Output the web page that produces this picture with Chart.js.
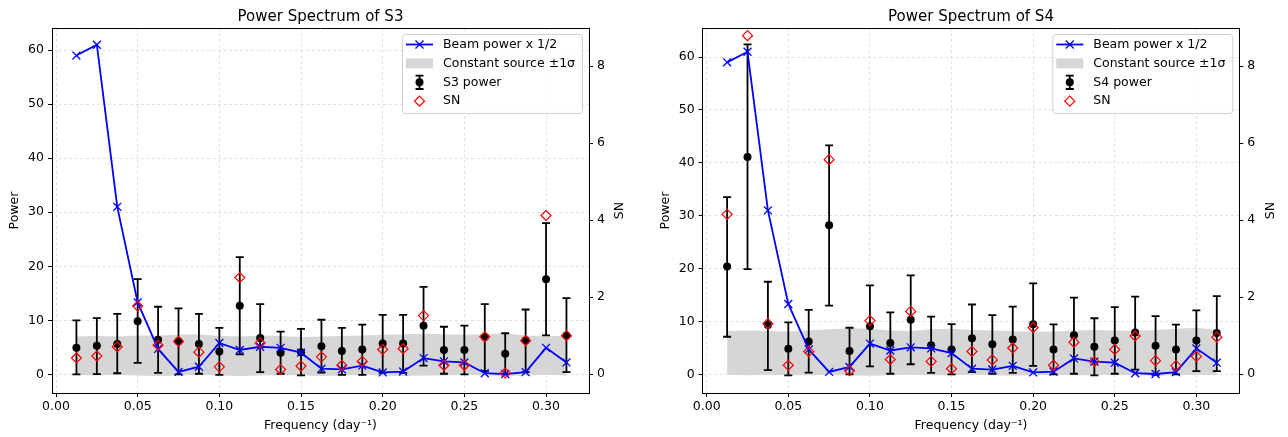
<!DOCTYPE html>
<html>
<head>
<meta charset="utf-8">
<script src="https://cdn.jsdelivr.net/npm/chart.js@4.4.1/dist/chart.umd.min.js"></script>
<style>
  body { margin: 0; background: #fff; }
  .panel { position: absolute; top: 0; width: 644px; height: 437px; }
</style>
</head>
<body>
<div class="panel" style="left:0"><canvas id="s3" width="644" height="437"></canvas></div>
<div class="panel" style="left:644px"><canvas id="s4" width="644" height="437"></canvas></div>
<script>
// frequencies (day^-1)
const freq = [0.0125, 0.025, 0.0375, 0.05, 0.0625, 0.075, 0.0875, 0.1, 0.1125, 0.125, 0.1375, 0.15, 0.1625,
  0.175, 0.1875, 0.2, 0.2125, 0.225, 0.2375, 0.25, 0.2625, 0.275, 0.2875, 0.3, 0.3125];

// beam power x 1/2 (same on both panels)
const beamHalf = [59.0, 61.0, 31.0, 13.3, 4.7, 0.45, 1.4, 5.8, 4.5, 5.1, 4.9, 4.0, 1.05,
  0.9, 1.6, 0.35, 0.5, 3.0, 2.4, 2.2, 0.2, 0.05, 0.4, 4.9, 2.2];

// S3
const s3Power = [4.9, 5.3, 5.6, 9.8, 6.4, 6.1, 5.6, 4.2, 12.7, 6.7, 4.0, 4.1, 5.2,
  4.3, 4.6, 5.7, 5.7, 9.0, 4.5, 4.5, 6.9, 3.8, 6.3, 17.6, 7.2];
const s3Low = [0.0, 0.05, 0.2, 2.1, 0.25, 0.0, 0.1, -0.1, 3.7, 0.4, 0.1, -0.2, 0.3,
  -0.1, -0.1, 0.25, 0.25, 1.6, 0.1, 0.0, 0.6, 0.0, 0.4, 7.2, 0.4];
const s3High = [10.0, 10.4, 11.2, 17.6, 12.5, 12.2, 11.2, 8.6, 21.7, 13.0, 7.9, 8.4, 10.1,
  8.6, 9.2, 11.0, 11.0, 16.2, 8.8, 9.0, 13.0, 7.6, 12.0, 28.0, 14.1];
const s3SN = [0.42, 0.47, 0.71, 1.77, 0.75, 0.85, 0.57, 0.19, 2.51, 0.81, 0.12, 0.21, 0.45,
  0.23, 0.33, 0.64, 0.66, 1.52, 0.23, 0.23, 0.97, 0.03, 0.87, 4.12, 1.0];
const s3BandLow = [-0.1, -0.2, -0.1, -0.2, -0.3, -0.2, -0.1, -0.2, -0.3, -0.2, -0.1, -0.2, -0.3,
  -0.2, -0.1, -0.2, -0.3, -0.2, -0.2, -0.1, -0.2, -0.3, -0.2, -0.1, -0.2];
const s3BandHigh = [7.0, 7.1, 7.0, 7.2, 7.2, 7.3, 7.4, 7.1, 7.0, 7.2, 7.1, 6.9, 7.0,
  7.1, 7.2, 7.3, 7.4, 7.5, 7.4, 7.3, 7.4, 7.6, 7.2, 7.0, 7.2];

// S4
const s4Power = [20.4, 41.1, 9.3, 4.85, 6.2, 28.2, 4.4, 9.1, 5.9, 10.3, 5.5, 4.7, 6.8,
  5.7, 6.6, 9.45, 4.7, 7.4, 5.2, 6.4, 7.9, 5.4, 4.7, 6.4, 7.8];
const s4Low = [7.1, 19.9, 0.8, -0.2, 0.3, 13.0, 0.0, 1.5, 0.1, 1.9, 0.25, 0.0, 0.4,
  0.06, 0.25, 1.6, 0.0, 0.1, -0.2, 0.1, 0.9, -0.1, 0.0, 0.6, 0.6];
const s4High = [33.5, 62.4, 17.5, 9.8, 12.2, 43.3, 8.8, 16.8, 11.7, 18.7, 10.9, 9.5, 13.2,
  11.2, 12.8, 17.2, 9.45, 14.5, 10.6, 12.7, 14.7, 11.0, 9.4, 12.1, 14.8];
const s4SN = [4.15, 8.79, 1.31, 0.23, 0.59, 5.57, 0.09, 1.39, 0.38, 1.63, 0.33, 0.14, 0.59,
  0.37, 0.68, 1.21, 0.23, 0.83, 0.33, 0.64, 0.99, 0.35, 0.22, 0.46, 0.96];
const s4BandLow = [-0.1, -0.2, -0.1, -0.2, -0.2, -0.1, -0.2, -0.3, -0.2, -0.1, -0.2, -0.2, -0.1,
  -0.2, -0.3, -0.2, -0.1, -0.2, -0.2, -0.1, -0.2, -0.3, -0.2, -0.1, -0.2];
const s4BandHigh = [8.2, 8.3, 8.2, 8.1, 8.3, 8.5, 8.7, 8.6, 8.3, 8.2, 8.5, 8.6, 8.4,
  8.3, 8.2, 8.0, 8.1, 8.3, 8.4, 8.3, 8.2, 8.4, 8.6, 8.8, 8.4];

// tick labels
const freqTicks = [0, 0.05, 0.10, 0.15, 0.20, 0.25, 0.30];
const powerTicks = [0, 10, 20, 30, 40, 50, 60];
const snTicks = [0, 2, 4, 6, 8];

const FONT = 'DejaVu Sans';
const FS = 12.5;
const gridColor = 'rgba(170,170,170,0.45)';
const bandColor = '#d6d6d6';

function pts(ys) { return ys.map((v, i) => ({ x: freq[i], y: v })); }

// error bars drawn under the power dots
const errorBars = {
  id: 'errorBars',
  beforeDatasetDraw(chart, args, opts) {
    if (args.index !== 2) return;
    const xs = chart.scales.x, ys = chart.scales.y, ctx = chart.ctx;
    ctx.save();
    ctx.strokeStyle = '#000';
    ctx.lineWidth = 1.8;
    opts.low.forEach((lo, i) => {
      const px = xs.getPixelForValue(freq[i]);
      const y1 = ys.getPixelForValue(lo), y2 = ys.getPixelForValue(opts.high[i]);
      ctx.beginPath();
      ctx.moveTo(px, y1); ctx.lineTo(px, y2);
      ctx.moveTo(px - 4, y1); ctx.lineTo(px + 4, y1);
      ctx.moveTo(px - 4, y2); ctx.lineTo(px + 4, y2);
      ctx.stroke();
    });
    ctx.restore();
  }
};

// title, top spine, right axis label, legend
const deco = {
  id: 'deco',
  afterDraw(chart, args, opts) {
    const ctx = chart.ctx, ca = chart.chartArea;
    ctx.save();
    // top spine
    ctx.strokeStyle = '#000'; ctx.lineWidth = 1;
    ctx.beginPath(); ctx.moveTo(ca.left, ca.top + 0.5); ctx.lineTo(ca.right, ca.top + 0.5); ctx.stroke();
    // title
    ctx.fillStyle = '#000';
    ctx.font = '15px "' + FONT + '"';
    ctx.textAlign = 'center'; ctx.textBaseline = 'alphabetic';
    ctx.fillText(opts.title, (ca.left + ca.right) / 2, 20.7);
    // SN label, reading bottom to top
    ctx.font = FS + 'px "' + FONT + '"';
    ctx.translate(ca.right + 31, (ca.top + ca.bottom) / 2);
    ctx.rotate(-Math.PI / 2);
    ctx.textBaseline = 'middle';
    ctx.fillText('SN', 0, 0);
    ctx.setTransform(1, 0, 0, 1, 0, 0);

    // legend
    const bw = 180, bh = 79;
    const bx = ca.right - 187, by = ca.top + 6;
    ctx.fillStyle = 'rgba(255,255,255,0.8)';
    ctx.strokeStyle = 'rgba(204,204,204,0.9)';
    ctx.lineWidth = 1;
    ctx.beginPath();
    ctx.roundRect(bx + 0.5, by + 0.5, bw, bh, 3);
    ctx.fill(); ctx.stroke();
    const hx = bx + 4, hw = 27, tx = bx + 41;
    const rows = [by + 10.5, by + 29.4, by + 48.3, by + 67.2];
    // beam
    const cx = hx + hw / 2;
    ctx.strokeStyle = '#0000ff'; ctx.lineWidth = 1.8;
    ctx.beginPath(); ctx.moveTo(hx, rows[0]); ctx.lineTo(hx + hw, rows[0]); ctx.stroke();
    ctx.lineWidth = 1.3;
    ctx.beginPath();
    ctx.moveTo(cx - 4, rows[0] - 4); ctx.lineTo(cx + 4, rows[0] + 4);
    ctx.moveTo(cx - 4, rows[0] + 4); ctx.lineTo(cx + 4, rows[0] - 4);
    ctx.stroke();
    // band
    ctx.fillStyle = bandColor;
    ctx.fillRect(hx, rows[1] - 5, hw, 10);
    // power with error bar
    ctx.strokeStyle = '#000'; ctx.lineWidth = 1.8;
    ctx.beginPath();
    ctx.moveTo(cx, rows[2] - 6.7); ctx.lineTo(cx, rows[2] + 6.7);
    ctx.moveTo(cx - 4, rows[2] - 6.7); ctx.lineTo(cx + 4, rows[2] - 6.7);
    ctx.moveTo(cx - 4, rows[2] + 6.7); ctx.lineTo(cx + 4, rows[2] + 6.7);
    ctx.stroke();
    ctx.fillStyle = '#000';
    ctx.beginPath(); ctx.arc(cx, rows[2], 4, 0, Math.PI * 2); ctx.fill();
    // SN diamond
    ctx.strokeStyle = '#ff0000'; ctx.lineWidth = 1.2;
    ctx.beginPath();
    ctx.moveTo(cx - 5, rows[3]); ctx.lineTo(cx, rows[3] - 5);
    ctx.lineTo(cx + 5, rows[3]); ctx.lineTo(cx, rows[3] + 5); ctx.closePath();
    ctx.stroke();
    // texts
    ctx.fillStyle = '#000';
    ctx.font = FS + 'px "' + FONT + '"';
    ctx.textAlign = 'left'; ctx.textBaseline = 'middle';
    opts.labels.forEach((t, i) => ctx.fillText(t, tx, rows[i]));
    ctx.restore();
  }
};

function makePanel(id, p) {
  const tickFont = { family: FONT, size: FS };
  return new Chart(document.getElementById(id), {
    type: 'line',
    data: {
      datasets: [
        { data: pts(p.bandLow), borderWidth: 0, pointRadius: 0, fill: false, order: 5, yAxisID: 'y' },
        { data: pts(p.bandHigh), borderWidth: 0, pointRadius: 0, fill: '-1', backgroundColor: bandColor, order: 4, yAxisID: 'y' },
        { data: pts(p.power), showLine: false, pointRadius: 4, pointBackgroundColor: '#000', pointBorderWidth: 0, order: 3, yAxisID: 'y' },
        { data: pts(beamHalf), borderColor: '#0000ff', borderWidth: 1.8, pointStyle: 'crossRot', pointRadius: 5.6,
          pointBorderColor: '#0000ff', pointBorderWidth: 1.3, order: 2, yAxisID: 'y' },
        { data: pts(p.sn), showLine: false, pointStyle: 'rectRot', pointRadius: 5, pointBackgroundColor: 'rgba(0,0,0,0)',
          pointBorderColor: '#ff0000', pointBorderWidth: 1.2, order: 1, yAxisID: 'y2' }
      ]
    },
    options: {
      responsive: false,
      animation: false,
      events: [],
      layout: { padding: { top: 28, left: 0, right: 0, bottom: 0 }, autoPadding: false },
      plugins: {
        legend: { display: false },
        tooltip: { enabled: false },
        errorBars: { low: p.low, high: p.high },
        deco: { title: p.title, labels: ['Beam power x 1/2', 'Constant source \u00b11\u03c3', p.name + ' power', 'SN'] }
      },
      scales: {
        x: {
          type: 'linear', min: -0.00245, max: 0.3263,
          afterBuildTicks: s => { s.ticks = freqTicks.map(v => ({ value: v })); },
          afterFit: s => { s.height = 44; },
          ticks: { callback: v => v.toFixed(2), font: tickFont, color: '#000', padding: 2, maxRotation: 0, autoSkip: false },
          grid: { color: gridColor, lineWidth: 0.8, tickColor: '#000', tickLength: 4, tickWidth: 1 },
          border: { color: '#000', width: 1, dash: [3, 2.5] },
          title: { display: true, text: 'Frequency (day\u207b\u00b9)', font: tickFont, color: '#000', padding: { top: 0, bottom: 3.5 } }
        },
        y: {
          position: 'left', min: p.yMin, max: p.yMax,
          afterBuildTicks: s => { s.ticks = powerTicks.map(v => ({ value: v })); },
          afterFit: s => { s.width = p.leftW; },
          ticks: { font: tickFont, color: '#000', padding: 4 },
          grid: { color: gridColor, lineWidth: 0.8, tickColor: '#000', tickLength: 4, tickWidth: 1 },
          border: { color: '#000', width: 1, dash: [3, 2.5] },
          title: { display: true, text: 'Power', font: tickFont, color: '#000', padding: { top: p.labelX - 7.5, bottom: 0 } }
        },
        y2: {
          position: 'right', min: -0.49, max: 8.99,
          afterBuildTicks: s => { s.ticks = snTicks.map(v => ({ value: v })); },
          afterFit: s => { s.width = p.rightW; },
          ticks: { font: tickFont, color: '#000', padding: 4 },
          grid: { drawOnChartArea: false, tickColor: '#000', tickLength: 4, tickWidth: 1 },
          border: { color: '#000', width: 1 }
        }
      }
    },
    plugins: [errorBars, deco]
  });
}

makePanel('s3', {
  title: 'Power Spectrum of S3', name: 'S3',
  power: s3Power, low: s3Low, high: s3High, sn: s3SN, bandLow: s3BandLow, bandHigh: s3BandHigh,
  yMin: -3.46, yMax: 64.1, leftW: 52, rightW: 55, labelX: 15
});
makePanel('s4', {
  title: 'Power Spectrum of S4', name: 'S4',
  power: s4Power, low: s4Low, high: s4High, sn: s4SN, bandLow: s4BandLow, bandHigh: s4BandHigh,
  yMin: -3.54, yMax: 65.5, leftW: 58.7, rightW: 48.7, labelX: 21.5
});
</script>
</body>
</html>
